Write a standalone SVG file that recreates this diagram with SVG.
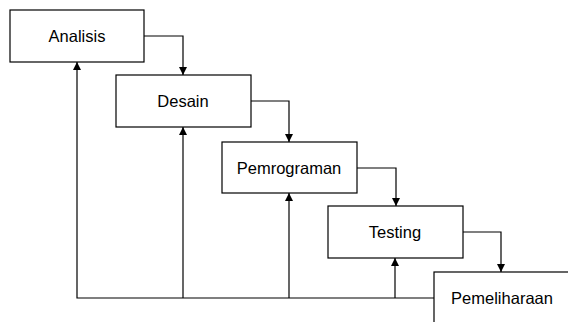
<svg xmlns="http://www.w3.org/2000/svg" width="568" height="322" viewBox="0 0 568 322">
<style>
.box{fill:#fff;stroke:#000;stroke-width:1.2}
.lbl{font-family:"Liberation Sans",Arial,sans-serif;font-size:16.5px;fill:#000;text-anchor:middle;dominant-baseline:central}
.con{fill:none;stroke:#000;stroke-width:1.2}
</style>
<defs>
<marker id="ah" viewBox="0 0 10 10" refX="10" refY="5" markerWidth="8" markerHeight="8" markerUnits="userSpaceOnUse" orient="auto">
<path d="M0,0 L10,5 L0,10 Z" fill="#000"/>
</marker>
</defs>
<g id="connectors">
<path class="con" d="M144,36 H183 V75" marker-end="url(#ah)"/>
<path class="con" d="M251,101 H289 V142" marker-end="url(#ah)"/>
<path class="con" d="M357,168 H396 V206" marker-end="url(#ah)"/>
<path class="con" d="M463,232 H501 V272" marker-end="url(#ah)"/>
<path class="con" d="M434,298 H77 V62" marker-end="url(#ah)"/>
<path class="con" d="M183,298 V127" marker-end="url(#ah)"/>
<path class="con" d="M289,298 V193" marker-end="url(#ah)"/>
<path class="con" d="M395,298 V258" marker-end="url(#ah)"/>
</g>
<g id="analisis">
<rect class="box" x="10" y="10" width="134" height="52"/>
<text class="lbl" x="77" y="36">Analisis</text>
</g>
<g id="desain">
<rect class="box" x="116" y="75" width="135" height="52"/>
<text class="lbl" x="183" y="101">Desain</text>
</g>
<g id="pemrograman">
<rect class="box" x="222" y="142" width="135" height="51"/>
<text class="lbl" x="289" y="168">Pemrograman</text>
</g>
<g id="testing">
<rect class="box" x="328" y="206" width="135" height="52"/>
<text class="lbl" x="395" y="232">Testing</text>
</g>
<g id="pemeliharaan">
<rect class="box" x="434" y="272" width="150" height="70"/>
<text class="lbl" x="502" y="298">Pemeliharaan</text>
</g>
</svg>
